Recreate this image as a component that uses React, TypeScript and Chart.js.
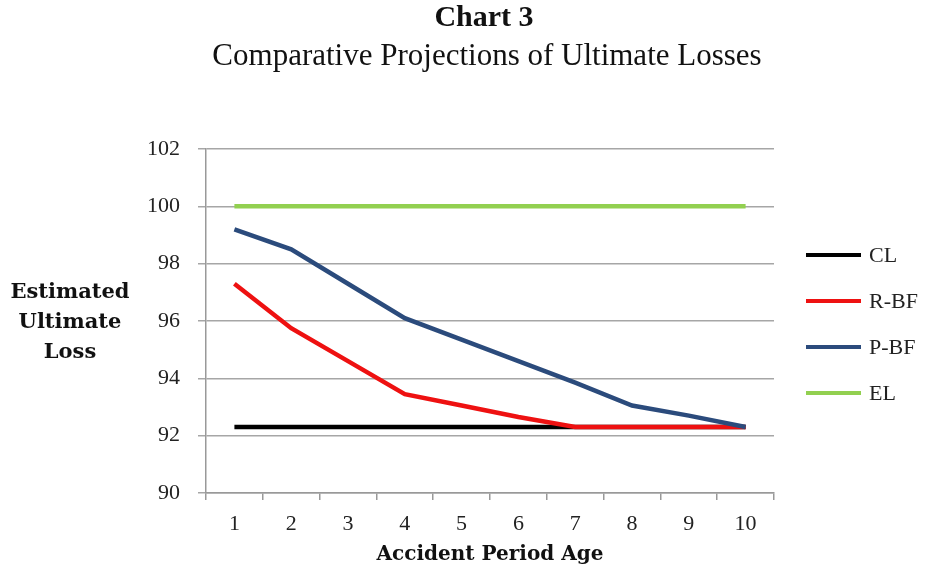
import React, { useEffect, useRef } from "react";
import { Chart, registerables } from "chart.js";

Chart.register(...registerables);

const ages = ["1", "2", "3", "4", "5", "6", "7", "8", "9", "10"];
const seriesNames = ["CL", "R-BF", "P-BF", "EL"];
const clValues = [92.3, 92.3, 92.3, 92.3, 92.3, 92.3, 92.3, 92.3, 92.3, 92.3];
const rbfValues = [97.3, 95.75, 94.6, 93.45, 93.05, 92.65, 92.3, 92.3, 92.3, 92.3];
const pbfValues = [99.2, 98.5, 97.3, 96.1, 95.35, 94.6, 93.85, 93.05, 92.7, 92.3];
const elValues = [100, 100, 100, 100, 100, 100, 100, 100, 100, 100];
const seriesColors = ["#000000", "#ee1111", "#2b4b7c", "#92d050"];
const chartTitle = "Chart 3";
const chartSubtitle = "Comparative Projections of Ultimate Losses";
const yTitleLines = ["Estimated", "Ultimate", "Loss"];
const xTitle = "Accident Period Age";

const SERIF = "'Liberation Serif', 'Times New Roman', serif";
const WIDE_SERIF = "'DejaVu Serif', serif";

const sideTextPlugin = {
  id: "sideText",
  afterDraw(chart: any) {
    const { ctx, chartArea } = chart;
    ctx.save();
    // Titles
    ctx.textAlign = "center";
    ctx.textBaseline = "middle";
    ctx.fillStyle = "#111";
    ctx.font = `bold 30px ${SERIF}`;
    ctx.fillText(chartTitle, 484, 18);
    ctx.font = `31px ${SERIF}`;
    ctx.fillText(chartSubtitle, 487, 57);
    // Legend
    ctx.font = `22px ${SERIF}`;
    ctx.textAlign = "left";
    const legendTop = chartArea.top + 106;
    chart.data.datasets.forEach((ds: any, i: number) => {
      const y = legendTop + i * 46;
      ctx.strokeStyle = ds.borderColor;
      ctx.lineWidth = 4;
      ctx.lineCap = "butt";
      ctx.beginPath();
      ctx.moveTo(chartArea.right + 32, y);
      ctx.lineTo(chartArea.right + 87, y);
      ctx.stroke();
      ctx.fillStyle = "#222";
      ctx.fillText(ds.label, chartArea.right + 95, y + 1);
    });
    // Y title
    ctx.font = `bold 21px ${WIDE_SERIF}`;
    ctx.textAlign = "center";
    ctx.fillStyle = "#111";
    const midY = (chartArea.top + chartArea.bottom) / 2;
    yTitleLines.forEach((t, i) => {
      ctx.fillText(t, 70, midY + (i - 1) * 30 + 2);
    });
    ctx.restore();
  },
};

export default function App() {
  const ref = useRef<HTMLCanvasElement>(null);

  useEffect(() => {
    document.body.style.margin = "0";
    const values = [clValues, rbfValues, pbfValues, elValues];
    const orders = [4, 2, 1, 3];
    const chart = new Chart(ref.current!, {
      type: "line",
      data: {
        labels: ages,
        datasets: seriesNames.map((name, i) => ({
          label: name,
          data: values[i],
          borderColor: seriesColors[i],
          backgroundColor: seriesColors[i],
          borderWidth: 4.5,
          pointRadius: 0,
          tension: 0,
          fill: false,
          order: orders[i],
          borderCapStyle: "butt" as const,
        })),
      },
      options: {
        responsive: false,
        animation: false,
        layout: { padding: { left: 120, right: 155, top: 149, bottom: 4 } },
        plugins: {
          legend: { display: false },
          tooltip: { enabled: false },
          title: { display: false },
        },
        scales: {
          x: {
            type: "category",
            offset: true,
            grid: {
              display: true,
              drawOnChartArea: false,
              drawTicks: true,
              tickLength: 7,
              offset: true,
              color: "#999",
              lineWidth: 1.5,
            },
            border: { display: true, color: "#999", width: 1.5 },
            ticks: { color: "#222", font: { family: SERIF, size: 22 }, padding: 11 },
            title: {
              display: true,
              text: xTitle,
              color: "#111",
              font: { family: WIDE_SERIF, size: 20, weight: "bold" },
              padding: { top: 0, bottom: 0 },
            },
            afterFit: (s: any) => {
              s.height = 74;
            },
          },
          y: {
            min: 90,
            max: 102,
            ticks: {
              stepSize: 2,
              color: "#222",
              font: { family: SERIF, size: 22 },
              padding: 18,
            },
            grid: { color: "#a6a6a6", lineWidth: 1.5, tickLength: 8 },
            border: { display: true, color: "#999", width: 1.5 },
            afterFit: (s: any) => {
              s.width = 86;
            },
          },
        },
      },
      plugins: [sideTextPlugin],
    });
    return () => chart.destroy();
  }, []);

  return (
    <div style={{ width: 929, height: 571 }}>
      <canvas ref={ref} width={929} height={571} style={{ display: "block" }} />
    </div>
  );
}
